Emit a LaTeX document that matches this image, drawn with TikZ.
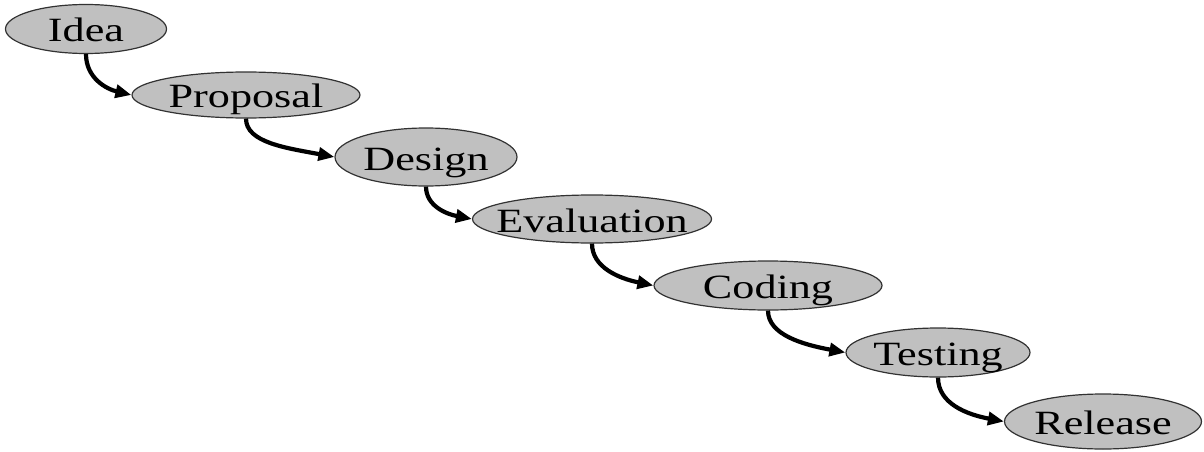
\documentclass[tikz,border=0pt]{standalone}
\usepackage{fontspec}
\setmainfont{Liberation Serif}
\usetikzlibrary{arrows.meta,shapes.geometric}
\definecolor{nodefill}{RGB}{192,192,192}
\definecolor{nodeline}{RGB}{50,50,50}
\newcommand{\lbl}[1]{\makebox[0pt]{\raisebox{-13pt}[0pt][0pt]{\scalebox{1.3}[1]{\fontsize{34}{40}\selectfont #1}}}}
\tikzset{
  stage/.style={ellipse, draw=nodeline, fill=nodefill, line width=1.2pt, inner sep=0pt},
  flow/.style={line width=4.2pt, -{Triangle[length=16pt,width=13pt]}}
}
\begin{document}
\begin{tikzpicture}[x=1pt,y=1pt]
\useasboundingbox (0,0) rectangle (1204,451);
\node[stage, minimum width=161pt, minimum height=49pt] (idea) at (86,422) {\lbl{Idea}};
\node[stage, minimum width=228pt, minimum height=46pt] (proposal) at (246,356) {\lbl{Proposal}};
\node[stage, minimum width=182pt, minimum height=58pt] (design) at (426,294) {\lbl{Design}};
\node[stage, minimum width=239pt, minimum height=48pt] (evaluation) at (592,232) {\lbl{Evaluation}};
\node[stage, minimum width=228pt, minimum height=49pt] (coding) at (768,165.5) {\lbl{Coding}};
\node[stage, minimum width=184pt, minimum height=49pt] (testing) at (938,98.5) {\lbl{Testing}};
\node[stage, minimum width=197pt, minimum height=55pt] (release) at (1103,29.5) {\lbl{Release}};
\draw[flow] (idea.south) .. controls +(0,-24) and +(-25,6) .. (proposal.west);
\draw[flow] (proposal.south) .. controls +(0,-24) and +(-48,9) .. (design.west);
\draw[flow] (design.south) .. controls +(0,-19) and +(-26,5) .. (evaluation.west);
\draw[flow] (evaluation.south) .. controls +(0,-24) and +(-34,7) .. (coding.west);
\draw[flow] (coding.south) .. controls +(0,-24) and +(-43,8) .. (testing.west);
\draw[flow] (testing.south) .. controls +(0,-26) and +(-37,7) .. (release.west);
\end{tikzpicture}
\end{document}
